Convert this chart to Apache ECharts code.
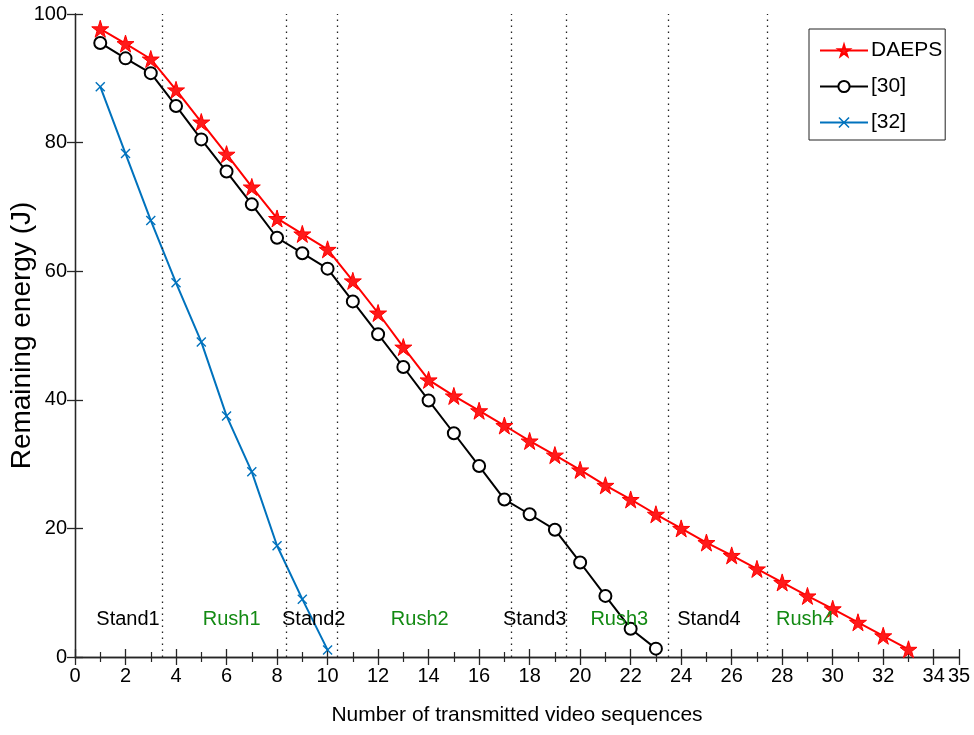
<!DOCTYPE html>
<html>
<head>
<meta charset="utf-8">
<script src="https://cdn.jsdelivr.net/npm/echarts@6/dist/echarts.min.js"></script>
<style>
    html, body { margin: 0; padding: 0; background: #fff; }
    #myChart { width: 974px; height: 735px; }
</style>
</head>
<body>
<div id="myChart"></div>
<script>
//数据
var xDaeps = [1, 2, 3, 4, 5, 6, 7, 8, 9, 10, 11, 12, 13, 14, 15, 16, 17, 18, 19, 20, 21, 22, 23, 24, 25, 26, 27, 28, 29, 30, 31, 32, 33];
var daeps = [97.7, 95.4, 93.0, 88.2, 83.2, 78.2, 73.1, 68.2, 65.8, 63.4, 58.5, 53.5, 48.2, 43.1, 40.6, 38.3, 36.0, 33.6, 31.4, 29.1, 26.7, 24.5, 22.2, 20.0, 17.8, 15.8, 13.7, 11.6, 9.5, 7.5, 5.4, 3.3, 1.2];
var x30 = [1, 2, 3, 4, 5, 6, 7, 8, 9, 10, 11, 12, 13, 14, 15, 16, 17, 18, 19, 20, 21, 22, 23];
var ref30 = [95.5, 93.1, 90.8, 85.7, 80.5, 75.5, 70.4, 65.2, 62.8, 60.4, 55.3, 50.2, 45.1, 39.9, 34.8, 29.7, 24.5, 22.2, 19.8, 14.7, 9.5, 4.4, 1.3];
var x32 = [1, 2, 3, 4, 5, 6, 7, 8, 9, 10];
var ref32 = [88.7, 78.3, 67.9, 58.2, 49.0, 37.5, 28.8, 17.3, 9.0, 1.1];

//阶段分隔线和标注
var phaseLines = [3.45, 8.35, 10.4, 17.28, 19.45, 23.48, 27.42];
var phaseNames = ['Stand1', 'Rush1', 'Stand2', 'Rush2', 'Stand3', 'Rush3', 'Stand4', 'Rush4'];
var phaseX = [2.1, 6.2, 9.45, 13.65, 18.2, 21.55, 25.1, 28.9];
var phaseY = 5.8;

var fontName = '"Liberation Sans", Arial, sans-serif';
var starPath = 'path://M50,0 L61,35 L98,35 L68,57 L79,91 L50,70 L21,91 L32,57 L2,35 L39,35 Z';
var crossPath = 'path://M0,1 L1,0 L5,4 L9,0 L10,1 L6,5 L10,9 L9,10 L5,6 L1,10 L0,9 L4,5 Z';

function pairs(xs, ys) {
    var out = [];
    for (var i = 0; i < xs.length; i++) {
        out.push([xs[i], ys[i]]);
    }
    return out;
}

function phaseData() {
    var out = [];
    for (var i = 0; i < phaseNames.length; i++) {
        var isRush = phaseNames[i].indexOf('Rush') === 0;
        out.push({
            value: [phaseX[i], phaseY],
            label: { formatter: phaseNames[i], color: isRush ? '#138a13' : '#000' }
        });
    }
    return out;
}

var axisLineStyle = { color: '#262626', width: 1.3 };

var option = {
    animation: false,
    backgroundColor: '#fff',
    textStyle: { fontFamily: fontName },
    grid: { left: 75, right: 15, top: 14, bottom: 78, outerBoundsMode: 'none', containLabel: false },
    legend: {
        orient: 'vertical',
        left: 809,
        top: 29,
        padding: [11, 3, 7, 10],
        itemGap: 15,
        itemWidth: 48,
        itemHeight: 14,
        backgroundColor: '#fff',
        borderColor: '#222',
        borderWidth: 1,
        borderRadius: 0,
        textStyle: { fontFamily: fontName, fontSize: 21, color: '#000', padding: [0, 0, 0, -2] },
        data: ['DAEPS', '[30]', '[32]']
    },
    xAxis: [{
        type: 'value',
        min: 0,
        max: 35,
        interval: 2,
        name: 'Number of transmitted video sequences',
        nameLocation: 'middle',
        nameGap: 48,
        nameMoveOverlap: false,
        nameTextStyle: { fontFamily: fontName, fontSize: 21, color: '#000' },
        axisLine: { onZero: false, lineStyle: axisLineStyle },
        axisTick: { inside: true, length: 8, lineStyle: axisLineStyle },
        minorTick: { show: true, splitNumber: 2, length: 5, lineStyle: { color: '#262626', width: 1.2 } },
        splitLine: { show: false },
        axisLabel: { fontFamily: fontName, fontSize: 20, color: '#000', margin: 9, showMaxLabel: true }
    }, {
        type: 'value',
        position: 'top',
        min: 0,
        max: 35,
        interval: 2,
        axisLine: { lineStyle: axisLineStyle },
        axisTick: { inside: true, length: 8, lineStyle: axisLineStyle },
        minorTick: { show: true, splitNumber: 2, length: 5, lineStyle: { color: '#262626', width: 1.2 } },
        axisLabel: { show: false },
        splitLine: { show: false }
    }],
    yAxis: [{
        type: 'value',
        min: 0,
        max: 100,
        interval: 20,
        name: 'Remaining energy (J)',
        nameLocation: 'middle',
        nameGap: 39,
        nameMoveOverlap: false,
        nameTextStyle: { fontFamily: fontName, fontSize: 28, color: '#000' },
        axisLine: { show: true, lineStyle: axisLineStyle },
        axisTick: { show: true, inside: true, length: 8, lineStyle: axisLineStyle },
        splitLine: { show: false },
        axisLabel: { fontFamily: fontName, fontSize: 20, color: '#000', margin: 8 }
    }, {
        type: 'value',
        position: 'right',
        min: 0,
        max: 100,
        interval: 20,
        axisLine: { show: true, lineStyle: axisLineStyle },
        axisTick: { show: true, inside: true, length: 8, lineStyle: axisLineStyle },
        axisLabel: { show: false },
        splitLine: { show: false }
    }],
    series: [{
        name: 'DAEPS',
        type: 'line',
        data: pairs(xDaeps, daeps),
        symbol: starPath,
        symbolSize: 17,
        lineStyle: { color: '#ff0000', width: 2 },
        itemStyle: { color: '#ff1a1a', borderColor: '#ff0000', borderWidth: 1 },
        z: 5,
        markLine: {
            silent: true,
            symbol: 'none',
            label: { show: false },
            lineStyle: { type: [1.5, 4.5], color: '#222', width: 1.3 },
            data: phaseLines.map(function (v) { return { xAxis: v }; })
        }
    }, {
        name: '[30]',
        type: 'line',
        data: pairs(x30, ref30),
        symbol: 'emptyCircle',
        symbolSize: 12,
        lineStyle: { color: '#000', width: 2 },
        itemStyle: { color: '#000', borderColor: '#000', borderWidth: 1.8 },
        z: 4
    }, {
        name: '[32]',
        type: 'line',
        data: pairs(x32, ref32),
        symbol: crossPath,
        symbolSize: 10,
        lineStyle: { color: '#0072bd', width: 2 },
        itemStyle: { color: '#0072bd' },
        z: 3
    }, {
        name: 'phase',
        type: 'scatter',
        data: phaseData(),
        symbolSize: 0,
        silent: true,
        itemStyle: { opacity: 1 },
        label: {
            show: true,
            position: 'inside',
            fontFamily: fontName,
            fontSize: 20
        },
        z: 6
    }]
};

var myChart = echarts.init(document.getElementById('myChart'));
myChart.setOption(option);
</script>
</body>
</html>
